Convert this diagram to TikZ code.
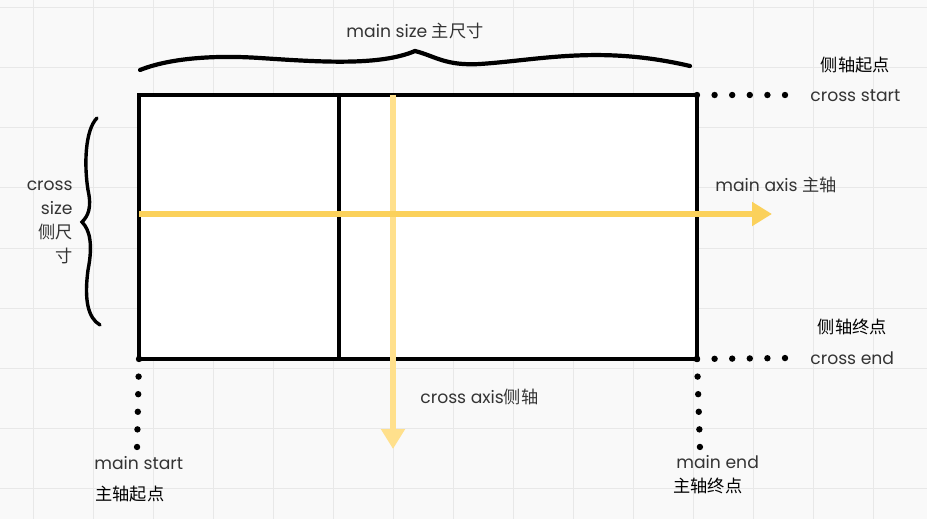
\documentclass[tikz,border=0pt]{standalone}
\usepackage{fontspec}
\setmainfont{Poppins}
\newfontfamily\cjk{Noto Sans CJK SC}
\usetikzlibrary{arrows.meta,positioning}
\definecolor{bgGray}{RGB}{249,249,249}
\definecolor{gridGray}{RGB}{232,232,232}
\definecolor{axisYellow}{RGB}{251,209,91}
\definecolor{axisYellowLt}{RGB}{255,224,140}
\definecolor{labelGray}{RGB}{52,52,52}
\newcommand{\zh}[1]{{\cjk #1}}

\begin{document}
\begin{tikzpicture}[
        x=0.5pt,y=-0.5pt,
        lbl/.style={font=\fontsize{8.6pt}{12pt}\selectfont,text=labelGray,inner sep=0pt},
        frame/.style={draw=black,line width=1.7pt},
        axis/.style={line width=2.6pt,-{Triangle[length=10pt,width=11.5pt]}},
        dotline/.style={line width=3.2pt,line cap=round,dash pattern=on 0pt off 8.8pt},
        brace/.style={line width=1.7pt,line cap=round}
      ]
        % background and grid
        \fill[bgGray] (0,0) rectangle (927,519);
        \useasboundingbox (0,0) rectangle (927,519);
        \foreach \gx in {33,93,...,913} \draw[gridGray,line width=0.5pt] (\gx,0) -- (\gx,519);
        \foreach \gy in {8,68,...,508} \draw[gridGray,line width=0.5pt] (0,\gy) -- (927,\gy);

        % flex container
        \coordinate (tl) at (139,95);
        \coordinate (tr) at (697,95);
        \coordinate (bl) at (139,359);
        \coordinate (br) at (697,359);
        \fill[white] (tl) rectangle (br);
        \draw[frame] (tl) rectangle (br);
        \draw[frame] (339,95) -- (339,359);

        % axes
        \coordinate (mainL) at (139,214);
        \coordinate (mainR) at (772,214);
        \coordinate (crossT) at (393,95);
        \coordinate (crossB) at (393,449);
        \draw[axis,axisYellowLt] (crossT) -- (crossB);
        \draw[axis,axisYellow] (mainL) -- (mainR);

        % braces
        \draw[brace,line width=2.1pt] (140,70) .. controls (170,58) and (215,55) .. (260,58)
          .. controls (320,62) and (380,66) .. (415,51)
          .. controls (435,56) and (445,66) .. (480,64)
          .. controls (540,60) and (600,45) .. (690,66);
        \draw[brace] (97,118) .. controls (85,130) and (84,165) .. (88,190)
          .. controls (92,208) and (88,216) .. (82,222)
          .. controls (90,230) and (93,245) .. (88,270)
          .. controls (84,300) and (88,318) .. (100,325);

        % start / end markers
        \coordinate (csEnd) at (790,95);
        \coordinate (ceEnd) at (790,358);
        \coordinate (msEnd) at (137,449);
        \coordinate (meEnd) at (700,449);
        \draw[dotline] (tr) -- (csEnd);
        \draw[dotline] (br) -- (ceEnd);
        \draw[dotline] (bl) -- (msEnd);
        \draw[dotline] (br) -- (meEnd);

        % labels
        \node[lbl] (msize) at (415,31) {main size \zh{主尺寸}};
        \node[lbl,anchor=west] (csEn) at (810,96) {cross start};
        \node[lbl,text=black,above=8pt of csEn] (csZh) {\zh{侧轴起点}};
        \node[lbl,anchor=west] (maxis) at (715,185) {main axis \zh{主轴}};
        \node[lbl,align=right,anchor=east] (csize) at (73,222) {cross\\size\\\zh{侧尺}\\\zh{寸}};
        \node[lbl,anchor=west] (caxis) at (420,397) {cross axis\zh{侧轴}};
        \node[lbl,anchor=west] (ceEn) at (810,358) {cross end};
        \node[lbl,text=black,above=8pt of ceEn] (ceZh) {\zh{侧轴终点}};
        \node[lbl,anchor=west] (msEn) at (94,463) {main start};
        \node[lbl,text=black,anchor=west] (msZh) at (95,494) {\zh{主轴起点}};
        \node[lbl,anchor=west] (meEn) at (676,462) {main end};
        \node[lbl,text=black,anchor=west] (meZh) at (673,486) {\zh{主轴终点}};
      \end{tikzpicture}
\end{document}
